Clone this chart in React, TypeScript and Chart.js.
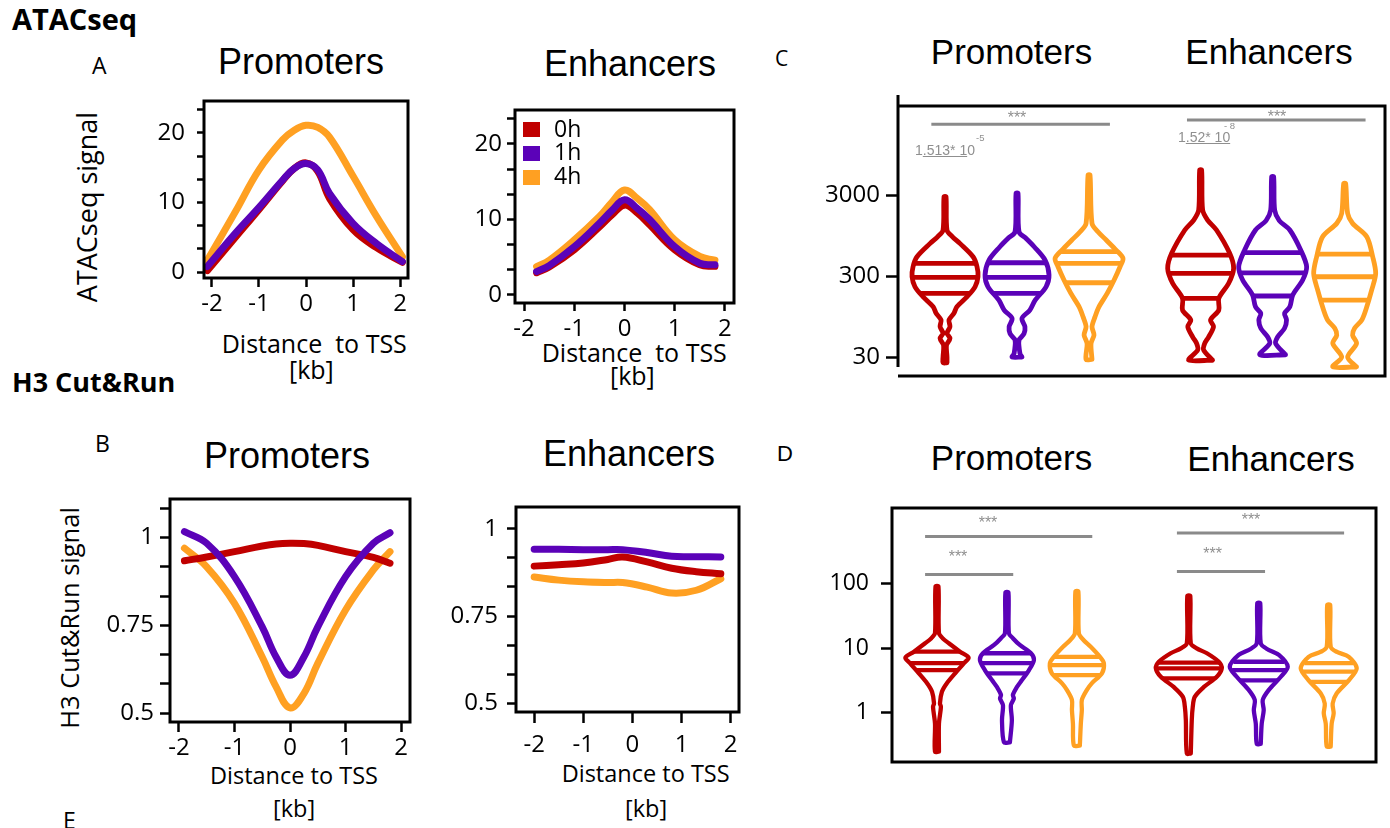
import React, { useEffect, useRef } from 'react';
import { Chart, registerables } from 'chart.js';

Chart.register(...registerables);
Chart.defaults.font.family = '"Open Sans", sans-serif';

// ---------- shared ----------
const SERIES = ['0h', '1h', '4h'];
const COLORS = ['#C00000', '#5B02B8', '#FFA022'];
const xKbTicks = [-2, -1, 0, 1, 2];

// ---------- Panel A: ATACseq profiles ----------
const atacPromX = [-2.1, -1.5, -1.0, -0.5, -0.25, 0, 0.25, 0.5, 1.0, 1.5, 2.05];
const atacProm0h = [0.2, 5.0, 9.0, 13.1, 14.9, 15.7, 14.5, 10.6, 6.1, 3.5, 1.4];
const atacProm1h = [0.8, 5.6, 9.3, 13.2, 14.9, 15.6, 14.7, 11.3, 7.0, 4.1, 1.5];
const atacProm4h = [1.7, 8.7, 14.7, 19.0, 20.4, 21.1, 20.8, 19.4, 13.8, 8.0, 2.2];

const atacEnhX = [-1.75, -1.5, -1.0, -0.5, -0.25, 0, 0.25, 0.5, 1.0, 1.5, 1.8];
const atacEnh0h = [2.95, 3.7, 6.0, 9.0, 10.6, 11.9, 10.9, 9.3, 6.0, 4.0, 3.8];
const atacEnh1h = [3.1, 3.9, 6.4, 9.5, 11.2, 12.6, 11.5, 10.0, 6.4, 4.2, 4.0];
const atacEnh4h = [3.75, 4.6, 7.3, 10.4, 12.3, 13.9, 12.8, 11.3, 7.3, 5.1, 4.6];

// ---------- Panel B: H3 Cut&Run profiles ----------
const h3PromX = [-1.9, -1.5, -1.0, -0.5, -0.25, 0, 0.25, 0.5, 1.0, 1.5, 1.8];
const h3Prom0h = [0.934, 0.945, 0.96, 0.976, 0.982, 0.984, 0.983, 0.978, 0.96, 0.944, 0.927];
const h3Prom1h = [1.017, 0.984, 0.889, 0.746, 0.66, 0.608, 0.66, 0.746, 0.889, 0.984, 1.014];
const h3Prom4h = [0.97, 0.917, 0.813, 0.66, 0.575, 0.515, 0.556, 0.642, 0.794, 0.908, 0.96];

const h3EnhX = [-2.0, -1.5, -1.0, -0.5, -0.2, 0.3, 0.8, 1.3, 1.8];
const h3Enh0h = [0.893, 0.897, 0.902, 0.912, 0.919, 0.905, 0.887, 0.877, 0.871];
const h3Enh1h = [0.941, 0.941, 0.94, 0.94, 0.94, 0.932, 0.921, 0.92, 0.919];
const h3Enh4h = [0.862, 0.853, 0.848, 0.846, 0.846, 0.833, 0.816, 0.824, 0.857];

// ---------- Panel C: ATACseq violins  [value, relative density] ----------
const atacVioPos = [1, 2, 3, 4.55, 5.55, 6.55];
const atacYTicks = [30, 300, 3000];
const atacVioProm0h: number[][] = [[25.5, .06], [30, .06], [42, .045], [51, .15], [59, .06], [71, .15], [86, .12], [104, .27], [125, .36], [167, .67], [221, .91], [294, 1.0], [391, .97], [519, .85], [759, .45], [920, .22], [1110, .06], [2856, .03]];
const atacVioProm1h: number[][] = [[30, .15], [33, .09], [48.6, .06], [58, .21], [71, .24], [90, .15], [114, .39], [151, .55], [221, .88], [308, .97], [473, .85], [690, .52], [877, .27], [1057, .06], [3150, .03]];
const atacVioProm4h: number[][] = [[28, .09], [44, .06], [56, .15], [71, .09], [94, .18], [125, .3], [183, .55], [268, .76], [391, .94], [496, 1.03], [628, .82], [835, .52], [1057, .27], [1341, .09], [5290, .03]];
const atacVioEnh0h: number[][] = [[27.5, .36], [36.7, .09], [44, .12], [53, .24], [71, .39], [86, .3], [114, .55], [159, .55], [244, .85], [373, 1.0], [572, .88], [1110, .48], [1475, .21], [1957, .06], [6100, .03]];
const atacVioEnh1h: number[][] = [[32, .39], [44, .09], [53, .15], [68, .36], [86, .42], [104, .36], [125, .52], [175, .61], [268, .91], [391, 1.03], [628, .85], [1110, .52], [1450, .2], [1957, .06], [5050, .03]];
const atacVioEnh4h: number[][] = [[22.7, .36], [30, .09], [44, .36], [56, .24], [68, .3], [86, .52], [114, .64], [202, .82], [323, .94], [519, .85], [917, .67], [1341, .24], [1782, .09], [4170, .03]];
const atacQProm0h = [183, 289, 430];
const atacQProm1h = [183, 289, 438];
const atacQProm4h = [248, 430, 599];
const atacQEnh0h = [159, 323, 545];
const atacQEnh1h = [170, 328, 583];
const atacQEnh4h = [151, 294, 560];
const atacSig = [[0, 2, 22400], [3, 5, 25300]]; // [from violin, to violin, bar level]

// ---------- Panel D: H3 violins ----------
const h3VioPos = [1, 2, 3, 4.6, 5.6, 6.6];
const h3YTicks = [1, 10, 100];
const h3VioProm0h: number[][] = [[0.25, .06], [0.68, .06], [1.24, .12], [1.4, .09], [2.12, .15], [2.87, .3], [4.1, .55], [5.9, .82], [7.2, .96], [8.9, .7], [12, .36], [14.4, .17], [17.2, .06], [91, .045]];
const h3VioProm1h: number[][] = [[0.35, .09], [0.77, .15], [1.32, .12], [1.67, .21], [1.9, .18], [2.5, .3], [3.2, .45], [4.6, .67], [6.6, .82], [8.4, .73], [11.3, .39], [14.4, .18], [17.2, .06], [73.5, .045]];
const h3VioProm4h: number[][] = [[0.31, .09], [0.68, .12], [1.1, .15], [1.58, .15], [2.25, .3], [2.87, .45], [4.1, .76], [5.9, .82], [7.4, .7], [10.6, .42], [13.5, .2], [17.2, .06], [76, .045]];
const h3VioEnh0h: number[][] = [[0.234, .06], [0.77, .09], [1.24, .12], [1.77, .18], [2.5, .45], [3.63, .85], [4.9, 1.0], [6.2, .91], [8.4, .55], [10, .24], [12, .06], [65, .045]];
const h3VioEnh1h: number[][] = [[0.33, .06], [0.68, .09], [1.1, .15], [1.58, .12], [2.25, .3], [3.63, .67], [5.2, .88], [7.9, .61], [9.8, .25], [12, .06], [50, .045]];
const h3VioEnh4h: number[][] = [[0.3, .06], [0.68, .09], [0.98, .15], [1.4, .12], [2.0, .24], [3.2, .61], [4.9, .85], [7.4, .61], [8.8, .25], [10.6, .06], [47, .045]];
const h3QProm0h = [4.6, 5.9, 8.9];
const h3QProm1h = [4.1, 5.9, 8.4];
const h3QProm4h = [3.86, 5.5, 7.4];
const h3QEnh0h = [3.43, 4.9, 6.0];
const h3QEnh1h = [3.2, 4.6, 6.2];
const h3QEnh4h = [3.03, 4.35, 5.9];
const h3Sig = [[0, 2, 544], [0, 1, 140], [3, 5, 614], [3, 4, 155]];

// ---------- helpers ----------
// Frame around the plot area; optional R-style detached left axis line
const boxPlugin = (w: number, leftAxis?: { up: number; short: number }) => ({
  id: 'box',
  afterDatasetsDraw(chart: any) {
    const { ctx, chartArea: a } = chart;
    ctx.save();
    ctx.strokeStyle = '#000';
    ctx.lineWidth = w;
    if (!leftAxis) {
      ctx.strokeRect(a.left, a.top, a.right - a.left, a.bottom - a.top);
    } else {
      ctx.beginPath();
      ctx.moveTo(a.left, a.top);
      ctx.lineTo(a.right, a.top);
      ctx.lineTo(a.right, a.bottom);
      ctx.lineTo(a.left, a.bottom);
      ctx.moveTo(a.left, a.top - leftAxis.up);
      ctx.lineTo(a.left, a.bottom - leftAxis.short);
      ctx.stroke();
    }
    ctx.restore();
  },
});

const tickFont = (size: number) => ({ size, family: '"Open Sans", sans-serif' });
const noPad = (s: any) => { s.paddingTop = 0; s.paddingBottom = 0; s.paddingLeft = 0; s.paddingRight = 0; };

function lineConfig(p: any) {
  const order = [1, 0, 2];
  const datasets = order.map((i) => ({
    label: SERIES[i],
    data: p.x.map((x: number, j: number) => ({ x, y: p.series[i][j] })),
    borderColor: COLORS[i],
    borderWidth: 7,
    pointRadius: 0,
    tension: 0.4,
    fill: false,
    borderCapStyle: 'round',
    borderJoinStyle: 'round',
  }));
  const yTicks: number[] = [];
  for (let k = Math.ceil(p.yMin / p.yStep - 1e-9); k * p.yStep <= p.yMax + 1e-9; k++) yTicks.push(k * p.yStep + 0);
  return {
    type: 'line',
    data: { datasets },
    plugins: [boxPlugin(3)],
    options: {
      animation: false,
      responsive: false,
      events: [],
      layout: { padding: { top: 6, right: 6, left: 0, bottom: 0 } },
      plugins: { legend: { display: false }, tooltip: { enabled: false } },
      scales: {
        x: {
          type: 'linear', min: p.xMin, max: p.xMax,
          afterBuildTicks: (ax: any) => { ax.ticks = xKbTicks.map((v) => ({ value: v })); },
          afterFit: (s: any) => { s.height = 50; noPad(s); },
          border: { display: false },
          grid: { drawOnChartArea: false, drawTicks: true, tickLength: p.xTick, tickWidth: 2.5, tickColor: '#000' },
          ticks: { color: '#000', font: tickFont(24), padding: p.xPad, maxRotation: 0, autoSkip: false, callback: (v: any) => String(v) },
        },
        y: {
          type: 'linear', min: p.yMin, max: p.yMax,
          afterBuildTicks: (ax: any) => { ax.ticks = yTicks.map((v) => ({ value: v })); },
          afterFit: (s: any) => { s.width = p.yW; noPad(s); },
          border: { display: false },
          grid: { drawOnChartArea: false, drawTicks: true, tickLength: p.yTick, tickWidth: 2.5, tickColor: '#000' },
          ticks: {
            color: '#000', font: tickFont(24), padding: p.yPad, autoSkip: false,
            callback: (v: any) => {
              const r = v / p.yLabelStep;
              return Math.abs(r - Math.round(r)) < 1e-6 ? String(+Number(v).toFixed(2)) : '';
            },
          },
        },
      },
    },
  };
}

function widthAt(P: number[][], q: number) {
  for (let i = 0; i < P.length - 1; i++) {
    const [v0, d0] = P[i];
    const [v1, d1] = P[i + 1];
    if (q >= v0 && q <= v1) {
      const t = (Math.log(q) - Math.log(v0)) / (Math.log(v1) - Math.log(v0));
      return d0 + t * (d1 - d0);
    }
  }
  return 0;
}

function violinConfig(p: any) {
  const datasets: any[] = [];
  p.profiles.forEach((P: number[][], i: number) => {
    const c = p.pos[i];
    const col = COLORS[i % 3];
    const right = P.map(([v, d]) => ({ x: c + d * p.halfW, y: v }));
    const left = P.slice().reverse().map(([v, d]) => ({ x: c - d * p.halfW, y: v }));
    datasets.push({
      data: [...right, ...left, right[0]], borderColor: col, borderWidth: p.lw, pointRadius: 0,
      tension: 0.3, fill: false, borderJoinStyle: 'round', borderCapStyle: 'round',
    });
    p.quart[i].forEach((q: number) => {
      const w = widthAt(P, q) * p.halfW;
      datasets.push({
        data: [{ x: c - w, y: q }, { x: c + w, y: q }], borderColor: col, borderWidth: p.lw,
        pointRadius: 0, tension: 0, fill: false,
      });
    });
  });
  p.sig.forEach(([a, b, level]: number[]) => {
    datasets.push({
      data: [{ x: p.pos[a] + p.sigL, y: level }, { x: p.pos[b] + (b - a > 1 ? p.sigR2 : p.sigR1), y: level }],
      borderColor: '#8a8a8a', borderWidth: 3, pointRadius: 0, tension: 0, fill: false,
    });
  });
  return {
    type: 'line',
    data: { datasets },
    plugins: [boxPlugin(3, p.leftAxis)],
    options: {
      animation: false,
      responsive: false,
      events: [],
      layout: { padding: { top: p.padT, right: p.padR, left: 0, bottom: 6 } },
      plugins: { legend: { display: false }, tooltip: { enabled: false } },
      scales: {
        x: { type: 'linear', display: false, min: p.xMin, max: p.xMax, afterFit: noPad },
        y: {
          type: 'logarithmic', min: p.yMin, max: p.yMax,
          afterBuildTicks: (ax: any) => { ax.ticks = p.yTicks.map((v: number) => ({ value: v })); },
          afterFit: (s: any) => { s.width = p.yW; noPad(s); },
          border: { display: false },
          grid: { drawOnChartArea: false, drawTicks: true, tickLength: p.yTick, tickWidth: 2.5, tickColor: '#000' },
          ticks: { color: '#000', font: tickFont(p.fs), padding: p.yPad, autoSkip: false, callback: (v: any) => String(v) },
        },
      },
    },
  };
}

function ChartBox({ left, top, width, height, make }: any) {
  const ref = useRef<HTMLCanvasElement | null>(null);
  useEffect(() => {
    const ch = new Chart(ref.current as HTMLCanvasElement, make());
    return () => ch.destroy();
  }, []);
  return (
    <canvas ref={ref} width={width} height={height}
      style={{ position: 'absolute', left, top, width, height }} />
  );
}

const OS = '"Open Sans", sans-serif';
const LS = '"Liberation Sans", Arial, Helvetica, sans-serif';

function Txt({ x, y, size, fam = 'os', anchor = 'start', weight = 400, color = '#000', children }: any) {
  const ratio = fam === 'os' ? 0.888 : 0.8465;
  const tx = anchor === 'middle' ? 'translateX(-50%)' : anchor === 'end' ? 'translateX(-100%)' : 'none';
  return (
    <div style={{
      position: 'absolute', left: x, top: y - ratio * size, fontSize: size, lineHeight: `${size}px`,
      fontFamily: fam === 'os' ? OS : LS, fontWeight: weight, color, whiteSpace: 'pre', transform: tx,
    }}>{children}</div>
  );
}

function VTxt({ cx, cy, size, children }: any) {
  return (
    <div style={{
      position: 'absolute', left: cx, top: cy, transform: 'translate(-50%,-50%) rotate(-90deg)',
      fontSize: size, lineHeight: `${size}px`, fontFamily: OS, whiteSpace: 'pre', color: '#000',
    }}>{children}</div>
  );
}

const GRAY = '#8f8f8f';

export default function App() {
  return (
    <div style={{ position: 'absolute', left: 0, top: 0, width: 1390, height: 828, background: '#fff', overflow: 'hidden' }}>
      {/* Section headers & panel letters */}
      <Txt x={12} y={30} size={29} weight={700}>ATACseq</Txt>
      <Txt x={12} y={392} size={27} weight={700}>H3 Cut&amp;Run</Txt>
      <Txt x={92} y={74} size={23}>A</Txt>
      <Txt x={95} y={452} size={23}>B</Txt>
      <Txt x={775} y={66.7} size={21}>C</Txt>
      <Txt x={777} y={461.7} size={22} fam="ls">D</Txt>
      <Txt x={63} y={829} size={23}>E</Txt>

      {/* Panel titles */}
      <Txt x={301} y={74} size={36} fam="ls" anchor="middle">Promoters</Txt>
      <Txt x={630} y={76.5} size={36} fam="ls" anchor="middle">Enhancers</Txt>
      <Txt x={287} y={468} size={36} fam="ls" anchor="middle">Promoters</Txt>
      <Txt x={629} y={466.5} size={36} fam="ls" anchor="middle">Enhancers</Txt>
      <Txt x={1011.5} y={63.3} size={35} fam="ls" anchor="middle">Promoters</Txt>
      <Txt x={1269} y={63.5} size={35} fam="ls" anchor="middle">Enhancers</Txt>
      <Txt x={1011.5} y={470} size={35} fam="ls" anchor="middle">Promoters</Txt>
      <Txt x={1271} y={471} size={35} fam="ls" anchor="middle">Enhancers</Txt>

      {/* Axis titles */}
      <VTxt cx={86} cy={206.7} size={27}>ATACseq signal</VTxt>
      <VTxt cx={70} cy={617.7} size={25.5}>H3 Cut&amp;Run signal</VTxt>
      <Txt x={221.7} y={353} size={25}>{'Distance  to TSS'}</Txt>
      <Txt x={289} y={379} size={25}>[kb]</Txt>
      <Txt x={541.7} y={361.7} size={25}>{'Distance  to TSS'}</Txt>
      <Txt x={610} y={385} size={25}>[kb]</Txt>
      <Txt x={210} y={785} size={23.5}>Distance to TSS</Txt>
      <Txt x={273} y={818} size={23.5}>[kb]</Txt>
      <Txt x={561.7} y={783} size={23.5}>Distance to TSS</Txt>
      <Txt x={625} y={818} size={23.5}>[kb]</Txt>

      {/* Charts */}
      <ChartBox left={144} top={95} width={270} height={233} make={() => lineConfig({
        x: atacPromX, series: [atacProm0h, atacProm1h, atacProm4h], xMin: -2.17, xMax: 2.17,
        yMin: -0.86, yMax: 24.6, yStep: 10 / 3, yLabelStep: 10, yW: 60, yTick: 7, yPad: 12, xTick: 9, xPad: 3,
      })} />
      <ChartBox left={455} top={104} width={285} height={249} make={() => lineConfig({
        x: atacEnhX, series: [atacEnh0h, atacEnh1h, atacEnh4h], xMin: -2.18, xMax: 2.18,
        yMin: -1.06, yMax: 24.5, yStep: 10 / 3, yLabelStep: 10, yW: 60, yTick: 8, yPad: 5, xTick: 8, xPad: 4,
      })} />
      <ChartBox left={95} top={493} width={321} height={279} make={() => lineConfig({
        x: h3PromX, series: [h3Prom0h, h3Prom1h, h3Prom4h], xMin: -2.16, xMax: 2.16,
        yMin: 0.475, yMax: 1.11, yStep: 0.25 / 3, yLabelStep: 0.25, yW: 75, yTick: 10, yPad: 6, xTick: 10, xPad: 2,
      })} />
      <ChartBox left={441} top={501} width={304} height={261} make={() => lineConfig({
        x: h3EnhX, series: [h3Enh0h, h3Enh1h, h3Enh4h], xMin: -2.37, xMax: 2.17,
        yMin: 0.476, yMax: 1.062, yStep: 0.25 / 3, yLabelStep: 0.25, yW: 75, yTick: 9, yPad: 9, xTick: 11, xPad: 8,
      })} />
      <ChartBox left={820} top={88} width={570} height={294} make={() => violinConfig({
        profiles: [atacVioProm0h, atacVioProm1h, atacVioProm4h, atacVioEnh0h, atacVioEnh1h, atacVioEnh4h],
        quart: [atacQProm0h, atacQProm1h, atacQProm4h, atacQEnh0h, atacQEnh1h, atacQEnh4h],
        pos: atacVioPos, halfW: 0.458, lw: 4.8, sig: atacSig, sigL: -0.19, sigR1: 0.29, sigR2: 0.29,
        xMin: 0.347, xMax: 7.11, yMin: 17.5, yMax: 37700, yTicks: atacYTicks,
        yW: 78, yTick: 12, yPad: 6, fs: 24, padR: 5, padT: 18, leftAxis: { up: 11, short: 9 },
      })} />
      <ChartBox left={814} top={502} width={568} height={266} make={() => violinConfig({
        profiles: [h3VioProm0h, h3VioProm1h, h3VioProm4h, h3VioEnh0h, h3VioEnh1h, h3VioEnh4h],
        quart: [h3QProm0h, h3QProm1h, h3QProm4h, h3QEnh0h, h3QEnh1h, h3QEnh4h],
        pos: h3VioPos, halfW: 0.471, lw: 4.3, sig: h3Sig, sigL: -0.17, sigR1: 0.09, sigR2: 0.22,
        xMin: 0.357, xMax: 7.276, yMin: 0.173, yMax: 1503, yTicks: h3YTicks,
        yW: 78, yTick: 11, yPad: 12, fs: 23, padR: 6, padT: 6,
      })} />

      {/* Legend (Panel A enhancers) */}
      {SERIES.map((s, i) => (
        <React.Fragment key={s}>
          <div style={{ position: 'absolute', left: 523, top: 122 + i * 24, width: 17, height: 15, background: COLORS[i] }} />
          <Txt x={554} y={137 + i * 23.5} size={23}>{s}</Txt>
        </React.Fragment>
      ))}

      {/* Significance labels */}
      <Txt x={1017} y={124} size={16} fam="ls" anchor="middle" color={GRAY}>***</Txt>
      <Txt x={1277} y={122.5} size={16} fam="ls" anchor="middle" color={GRAY}>***</Txt>
      <Txt x={915} y={154.5} size={14} fam="ls" color={GRAY}>1<u>.513* 1</u>0</Txt>
      <Txt x={976} y={141} size={9.5} fam="ls" color={GRAY}>-5</Txt>
      <Txt x={1178} y={141.7} size={14} fam="ls" color={GRAY}>1<u>.52* 10</u></Txt>
      <Txt x={1224} y={129} size={9.5} fam="ls" color={GRAY}>{'- 8'}</Txt>
      <Txt x={988} y={529} size={16} fam="ls" anchor="middle" color={GRAY}>***</Txt>
      <Txt x={958} y={562.5} size={16} fam="ls" anchor="middle" color={GRAY}>***</Txt>
      <Txt x={1251} y={526} size={16} fam="ls" anchor="middle" color={GRAY}>***</Txt>
      <Txt x={1212.7} y={560} size={16} fam="ls" anchor="middle" color={GRAY}>***</Txt>
    </div>
  );
}
